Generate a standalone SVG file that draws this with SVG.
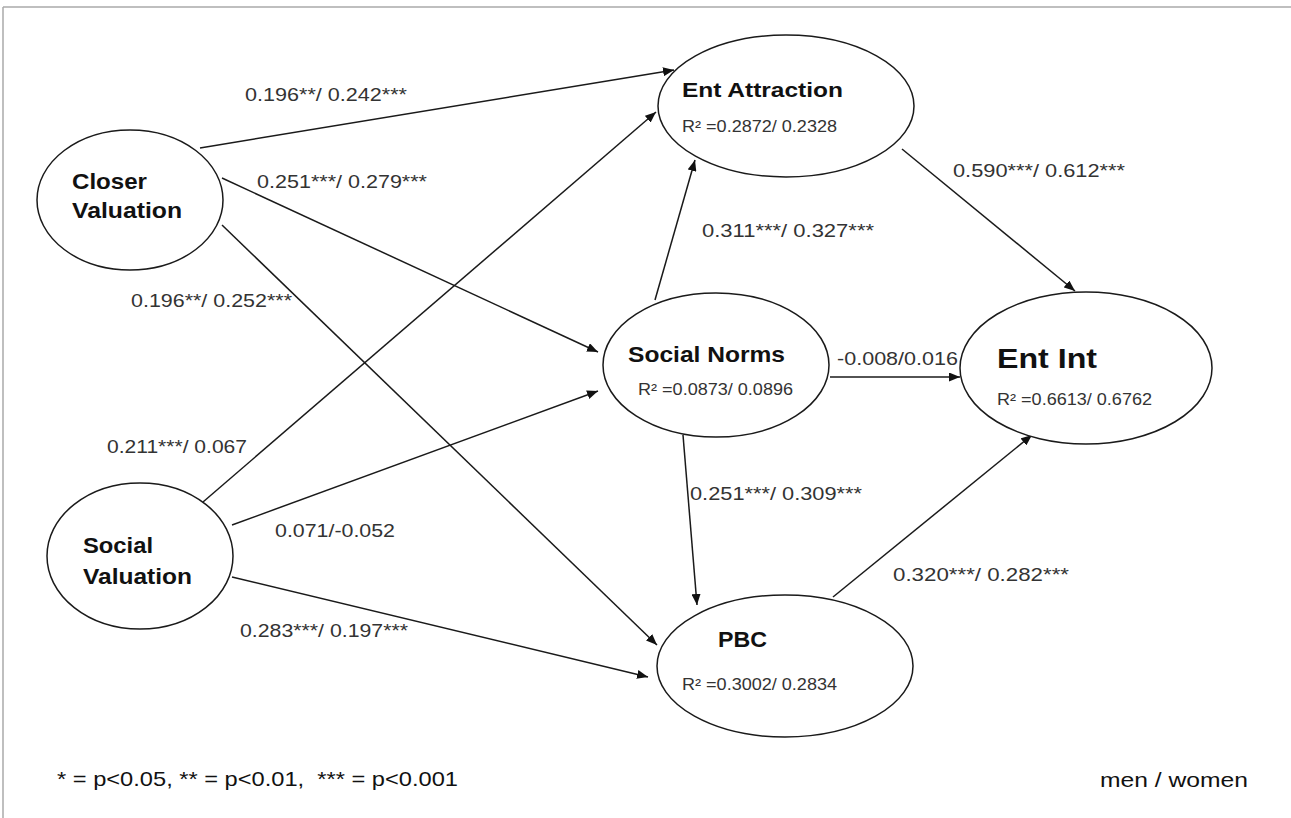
<svg xmlns="http://www.w3.org/2000/svg" width="1291" height="818" viewBox="0 0 1291 818">
<style>
.node{fill:#fff;stroke:#1a1a1a;stroke-width:1.5}
.edge{stroke:#1a1a1a;stroke-width:1.5;fill:none;marker-end:url(#arr)}
.title{font-family:"Liberation Sans",Arial,sans-serif;font-weight:bold;fill:#111}
.r2{font-family:"Liberation Sans",Arial,sans-serif;font-size:16px;fill:#333}
.lbl{font-family:"Liberation Sans",Arial,sans-serif;font-size:19px;fill:#333}
.foot{font-family:"Liberation Sans",Arial,sans-serif;font-size:21px;fill:#111;white-space:pre}
</style>
<defs>
<marker id="arr" markerUnits="userSpaceOnUse" markerWidth="13" markerHeight="9" refX="11" refY="4.5" orient="auto">
<path d="M0,0 L11,4.5 L0,9 z" fill="#111"/>
</marker>
</defs>
<rect width="1291" height="818" fill="#fff"/>
<line x1="3" y1="7" x2="1291" y2="7" stroke="#aaa" stroke-width="1.5"/>
<line x1="3" y1="7" x2="3" y2="818" stroke="#aaa" stroke-width="1.5"/>
<g id="connectors">
<line class="edge" x1="200" y1="148" x2="674" y2="70"/>
<line class="edge" x1="222" y1="178" x2="598" y2="352"/>
<line class="edge" x1="222" y1="225" x2="657" y2="645"/>
<line class="edge" x1="203" y1="502" x2="656" y2="112"/>
<line class="edge" x1="232" y1="525" x2="598" y2="391"/>
<line class="edge" x1="232" y1="577" x2="648" y2="677"/>
<line class="edge" x1="655" y1="300" x2="695" y2="160"/>
<line class="edge" x1="902" y1="149" x2="1075" y2="291"/>
<line class="edge" x1="830" y1="377" x2="960" y2="377"/>
<line class="edge" x1="683" y1="435" x2="697" y2="605"/>
<line class="edge" x1="833" y1="597" x2="1032" y2="435"/>
<text class="lbl" x="245" y="101" textLength="162" lengthAdjust="spacingAndGlyphs">0.196**/ 0.242***</text>
<text class="lbl" x="257" y="188" textLength="170" lengthAdjust="spacingAndGlyphs">0.251***/ 0.279***</text>
<text class="lbl" x="131" y="307" textLength="161" lengthAdjust="spacingAndGlyphs">0.196**/ 0.252***</text>
<text class="lbl" x="107" y="453" textLength="140" lengthAdjust="spacingAndGlyphs">0.211***/ 0.067</text>
<text class="lbl" x="275" y="537" textLength="120" lengthAdjust="spacingAndGlyphs">0.071/-0.052</text>
<text class="lbl" x="240" y="637" textLength="168" lengthAdjust="spacingAndGlyphs">0.283***/ 0.197***</text>
<text class="lbl" x="702" y="237" textLength="172" lengthAdjust="spacingAndGlyphs">0.311***/ 0.327***</text>
<text class="lbl" x="953" y="177" textLength="172" lengthAdjust="spacingAndGlyphs">0.590***/ 0.612***</text>
<text class="lbl" x="837" y="365" textLength="121" lengthAdjust="spacingAndGlyphs">-0.008/0.016</text>
<text class="lbl" x="690" y="500" textLength="172" lengthAdjust="spacingAndGlyphs">0.251***/ 0.309***</text>
<text class="lbl" x="893" y="581" textLength="176" lengthAdjust="spacingAndGlyphs">0.320***/ 0.282***</text>
</g>
<g id="closer-valuation">
<ellipse class="node" cx="130" cy="200" rx="93" ry="70"/>
<text class="title" font-size="22" x="72" y="189" textLength="75" lengthAdjust="spacingAndGlyphs">Closer</text>
<text class="title" font-size="22" x="72" y="218" textLength="110" lengthAdjust="spacingAndGlyphs">Valuation</text>
</g>
<g id="social-valuation">
<ellipse class="node" cx="140" cy="556" rx="93" ry="73"/>
<text class="title" font-size="22" x="83" y="553" textLength="70" lengthAdjust="spacingAndGlyphs">Social</text>
<text class="title" font-size="22" x="83" y="584" textLength="109" lengthAdjust="spacingAndGlyphs">Valuation</text>
</g>
<g id="ent-attraction">
<ellipse class="node" cx="786" cy="106" rx="128" ry="71"/>
<text class="title" font-size="21" x="682" y="97" textLength="161" lengthAdjust="spacingAndGlyphs">Ent Attraction</text>
<text class="r2" x="682" y="132" textLength="155" lengthAdjust="spacingAndGlyphs">R² =0.2872/ 0.2328</text>
</g>
<g id="social-norms">
<ellipse class="node" cx="716" cy="365" rx="113" ry="72"/>
<text class="title" font-size="22" x="628" y="362" textLength="157" lengthAdjust="spacingAndGlyphs">Social Norms</text>
<text class="r2" x="638" y="395" textLength="155" lengthAdjust="spacingAndGlyphs">R² =0.0873/ 0.0896</text>
</g>
<g id="ent-int">
<ellipse class="node" cx="1086" cy="368" rx="126" ry="76"/>
<text class="title" font-size="28" x="997" y="368" textLength="100" lengthAdjust="spacingAndGlyphs">Ent Int</text>
<text class="r2" x="997" y="405" textLength="155" lengthAdjust="spacingAndGlyphs">R² =0.6613/ 0.6762</text>
</g>
<g id="pbc">
<ellipse class="node" cx="785" cy="666" rx="128" ry="71"/>
<text class="title" font-size="22" x="718" y="647" textLength="49" lengthAdjust="spacingAndGlyphs">PBC</text>
<text class="r2" x="682" y="690" textLength="155" lengthAdjust="spacingAndGlyphs">R² =0.3002/ 0.2834</text>
</g>
<g id="footer">
<text class="foot" x="57" y="786" textLength="401" lengthAdjust="spacingAndGlyphs">* = p&lt;0.05, ** = p&lt;0.01,  *** = p&lt;0.001</text>
<text class="foot" x="1100" y="787" textLength="148" lengthAdjust="spacingAndGlyphs">men / women</text>
</g>
</svg>
